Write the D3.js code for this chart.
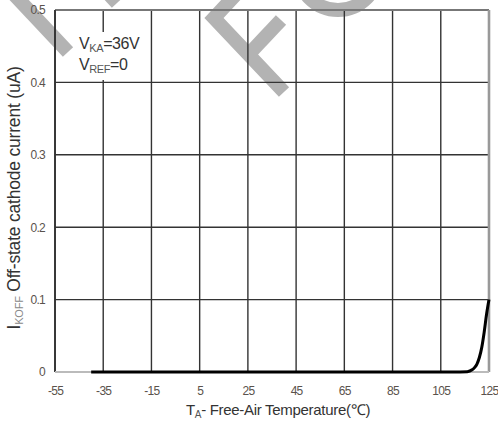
<!DOCTYPE html>
<html>
<head>
<meta charset="utf-8">
<script src="https://cdn.jsdelivr.net/npm/d3@7"></script>
<style>
  html, body { margin: 0; padding: 0; background: #fff; }
  svg { display: block; font-family: "Liberation Sans", Arial, sans-serif; }
</style>
</head>
<body>
<svg id="chart" width="498" height="423"></svg>
<script>
// Axis ticks
const tempTicks = [-55, -35, -15, 5, 25, 45, 65, 85, 105, 125];
const currentTicks = [0, 0.1, 0.2, 0.3, 0.4, 0.5];

// Off-state cathode current vs. free-air temperature (V_KA = 36 V, V_REF = 0)
const temperature = [-40, 0, 40, 80, 110, 116, 118, 119, 120, 121, 122, 123, 124, 125];
const offCurrent  = [0, 0, 0, 0, 0, 0.0005, 0.003, 0.006, 0.011, 0.02, 0.034, 0.055, 0.08, 0.1];

const svg = d3.select("#chart");
const plotL = 55, plotR = 489, plotT = 10, plotB = 372;

const x = d3.scaleLinear().domain([-55, 125]).range([plotL, plotR]);
const y = d3.scaleLinear().domain([0, 0.5]).range([plotB, plotT]);

svg.append("rect").attr("width", 498).attr("height", 423).attr("fill", "#fff");

// faint background stamp strokes
const stamp = svg.append("g")
  .attr("fill", "none").attr("stroke", "#b3b3b3").attr("stroke-width", 14);
stamp.append("path").attr("d", "M6,-14 L68,52");
stamp.append("path").attr("d", "M92,-24 L117,3");
stamp.append("path").attr("d", "M240,-10 L214,18 L284,92").attr("stroke-linejoin", "miter");
stamp.append("path").attr("d", "M249,54 L281,20");
stamp.append("circle").attr("cx", 338).attr("cy", -30).attr("r", 40);

// grid
const grid = svg.append("g").attr("stroke", "#333").attr("stroke-width", 1.4);
grid.selectAll("line.v").data(tempTicks).join("line")
  .attr("class", "v")
  .attr("x1", d => x(d)).attr("x2", d => x(d))
  .attr("y1", y(0.5)).attr("y2", y(0));
grid.selectAll("line.h").data(currentTicks.filter(d => d > 0 && d < 0.5)).join("line")
  .attr("class", "h")
  .attr("x1", plotL).attr("x2", plotR)
  .attr("y1", d => y(d)).attr("y2", d => y(d));

// frame
svg.append("line").attr("x1", plotL).attr("x2", plotR).attr("y1", y(0.5)).attr("y2", y(0.5))
  .attr("stroke", "#777").attr("stroke-width", 2);
svg.append("line").attr("x1", plotR).attr("x2", plotR).attr("y1", y(0.5)).attr("y2", y(0))
  .attr("stroke", "#999").attr("stroke-width", 2.6);
svg.append("line").attr("x1", plotL).attr("x2", plotL).attr("y1", y(0.5)).attr("y2", y(0))
  .attr("stroke", "#333").attr("stroke-width", 1.8);
svg.append("line").attr("x1", plotL).attr("x2", plotR).attr("y1", y(0)).attr("y2", y(0))
  .attr("stroke", "#bbb").attr("stroke-width", 2);

// condition label with white backing
svg.append("rect").attr("x", 74).attr("y", 32).attr("width", 72).attr("height", 48).attr("fill", "#fff");
const cond = svg.append("g").attr("font-size", 16).attr("fill", "#333").attr("letter-spacing", -0.4);
const t1 = cond.append("text").attr("x", 79).attr("y", 49);
t1.append("tspan").text("V");
t1.append("tspan").attr("font-size", 11).attr("dy", 3).attr("fill", "#555").text("KA");
t1.append("tspan").attr("dy", -3).text("=36V");
const t2 = cond.append("text").attr("x", 79).attr("y", 70);
t2.append("tspan").text("V");
t2.append("tspan").attr("font-size", 11).attr("dy", 3).attr("fill", "#555").text("REF");
t2.append("tspan").attr("dy", -3).text("=0");

// data curve
const line = d3.line()
  .x((d, i) => x(temperature[i]))
  .y(d => y(d))
  .curve(d3.curveMonotoneX);
svg.append("path").datum(offCurrent)
  .attr("d", line)
  .attr("fill", "none").attr("stroke", "#000").attr("stroke-width", 3)
  .attr("stroke-linecap", "butt");

// axes (labels only)
const xAxis = svg.append("g").attr("transform", `translate(0,${plotB})`)
  .call(d3.axisBottom(x).tickValues(tempTicks).tickSize(0).tickPadding(14).tickFormat(d => String(d)));
const yAxis = svg.append("g").attr("transform", `translate(${plotL},0)`)
  .call(d3.axisLeft(y).tickValues(currentTicks).tickSize(0).tickPadding(10).tickFormat(d => d === 0 ? "0" : d3.format(".1f")(d)));
[xAxis, yAxis].forEach(a => {
  a.select(".domain").remove();
  a.selectAll("text")
    .attr("font-family", "'Liberation Sans', Arial, sans-serif")
    .attr("font-size", 12).attr("fill", "#5a524c").attr("letter-spacing", -0.7);
});

// axis titles
const xt = svg.append("text").attr("x", 278).attr("y", 415)
  .attr("text-anchor", "middle").attr("font-size", 15).attr("fill", "#333").attr("letter-spacing", -0.3);
xt.append("tspan").text("T");
xt.append("tspan").attr("font-size", 10).attr("dy", 3).attr("fill", "#555").text("A");
xt.append("tspan").attr("dy", -3).text("- Free-Air Temperature(℃)");

const yt = svg.append("text").attr("transform", "translate(20,198) rotate(-90)")
  .attr("text-anchor", "middle").attr("font-size", 17.5).attr("fill", "#333").attr("letter-spacing", -0.2);
yt.append("tspan").text("I");
yt.append("tspan").attr("font-size", 11).attr("dy", 3).attr("fill", "#888").text("KOFF");
yt.append("tspan").attr("dy", -3).text(" Off-state cathode current (uA)");
</script>
</body>
</html>
